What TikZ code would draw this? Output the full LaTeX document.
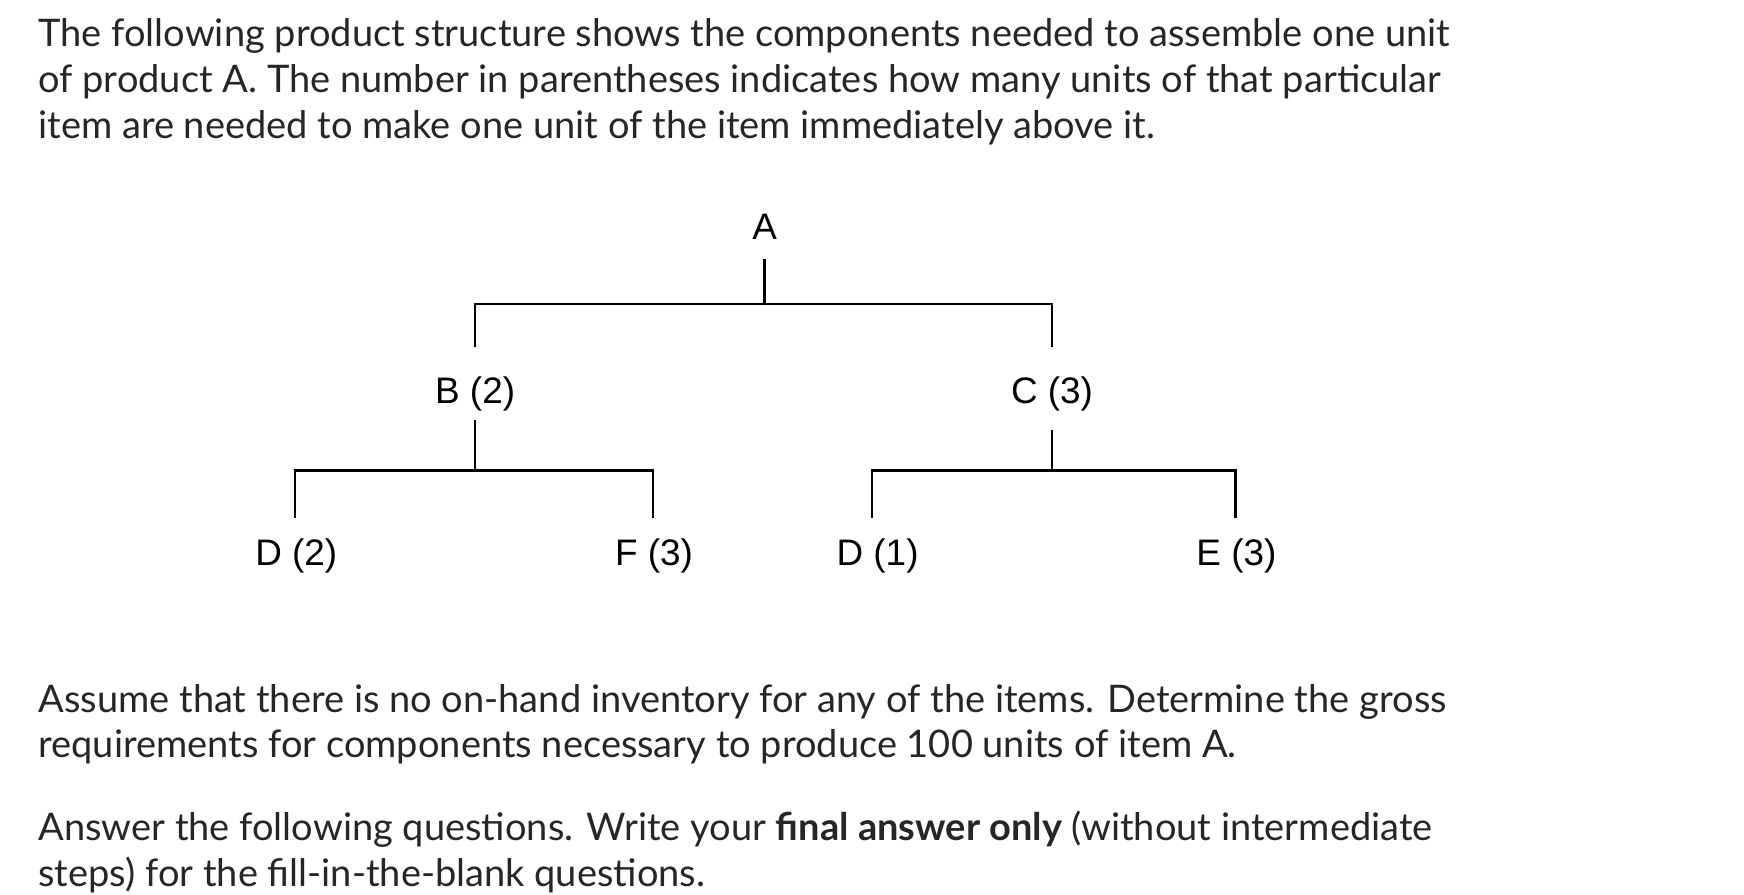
\documentclass[tikz,border=0pt]{standalone}
\usepackage{fontspec}
\setmainfont{Lato}
\newfontfamily\arialf{Liberation Sans}
\begin{document}
\begin{tikzpicture}[x=0.5pt,y=-0.5pt,
  para/.style={anchor=base west,inner sep=0pt,font=\fontsize{17}{20.5}\selectfont,text=black!85},
  lbl/.style={anchor=base,inner sep=0pt,font=\arialf\fontsize{16.5}{20}\selectfont},
  link/.style={line width=1.2pt}]
\useasboundingbox[fill=white] (0,0) rectangle (1560,800);
\node[para] (t1) at (34,42) {The following product structure shows the components needed to assemble one unit};
\node[para] (t2) at (34,83) {of product A. The number in parentheses indicates how many units of that particular};
\node[para] (t3) at (34,124) {item are needed to make one unit of the item immediately above it.};
\node[lbl] (A) at (684,214) {A};
\node[lbl] (B) at (425,361) {B (2)};
\node[lbl] (C) at (941,361) {C (3)};
\node[lbl] (D2) at (265,506) {D (2)};
\node[lbl] (F) at (585,506) {F (3)};
\node[lbl] (D1) at (785,506) {D (1)};
\node[lbl] (E) at (1106,506) {E (3)};
\coordinate (aT) at (684,232);
\coordinate (bB) at (425,376);
\coordinate (cB) at (941,385);
\draw[link] (aT) -- (684,272) (425,310) |- (941,272) -- (941,310);
\draw[link] (bB) -- (425,421) (264,463) |- (584,421) -- (584,463);
\draw[link] (cB) -- (941,421) (780,463) |- (1105,421) -- (1105,463);
\node[para] (p1) at (34,637) {Assume that there is no on-hand inventory for any of the items. Determine the gross};
\node[para] (p2) at (34,678) {requirements for components necessary to produce 100 units of item A.};
\node[para] (q1) at (34,752) {Answer the following questions. Write your \textbf{final answer only} (without intermediate};
\node[para] (q2) at (34,793) {steps) for the fill-in-the-blank questions.};
\end{tikzpicture}
\end{document}
